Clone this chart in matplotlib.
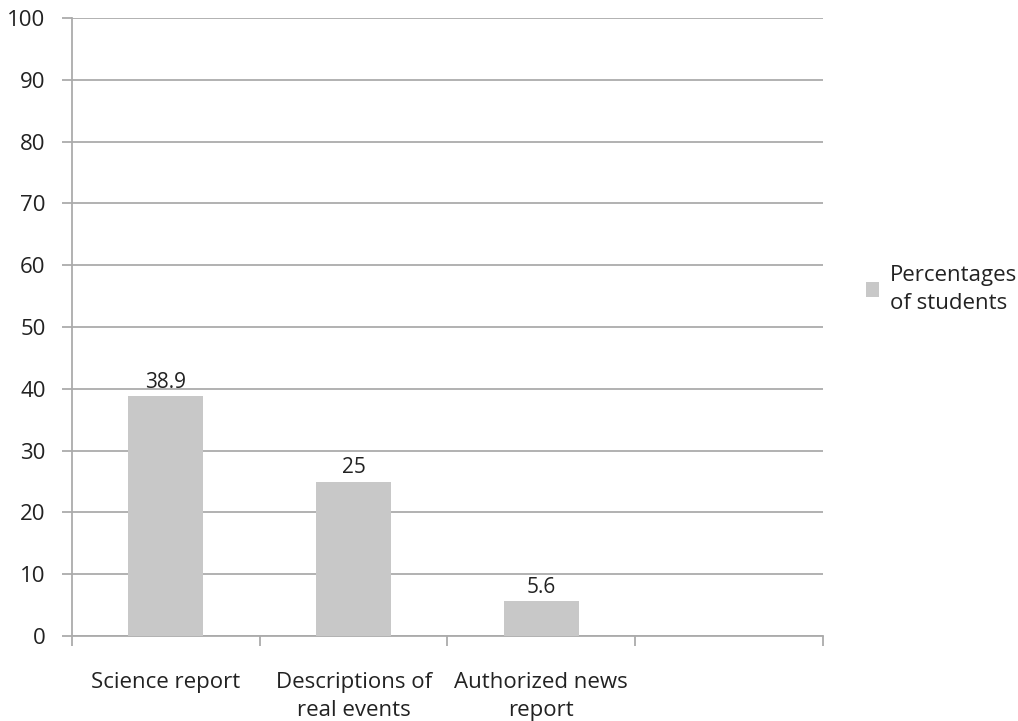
import numpy as np
import matplotlib.pyplot as plt

plt.rcParams['font.family'] = ['Open Sans', 'DejaVu Sans']

categories = ['Science report', 'Descriptions of\nreal events', 'Authorized news\nreport', '']
values = [38.9, 25, 5.6, None]
value_labels = ['38.9', '25', '5.6']
series_name = 'Percentages\nof students'

fig = plt.figure(figsize=(10.18, 7.21), dpi=100)
ax = fig.add_axes([0.0707, 0.1179, 0.7377, 0.857])

grid_col = '#ababab'
bar_col = '#c8c8c8'
txt_col = '#222222'

x = np.arange(len(categories))
heights = [v if v is not None else 0 for v in values]
bars = ax.bar(x, heights, width=0.4, color=bar_col, label=series_name, zorder=3)

for i, lab in enumerate(value_labels):
    ax.text(x[i], values[i] + 0.5, lab, ha='center', va='bottom', fontsize=15, color=txt_col)

ax.set_xlim(-0.5, len(categories) - 0.5)
ax.set_ylim(0, 100)
ax.set_yticks(np.arange(0, 101, 10))
ax.yaxis.grid(True, color=grid_col, linewidth=1.3, zorder=0)

# category boundaries as major ticks, labels on minor ticks
ax.set_xticks(np.arange(-0.5, len(categories), 1.0))
ax.set_xticklabels([])
ax.set_xticks(x, minor=True)
ax.set_xticklabels(categories, minor=True, linespacing=1.45)
ax.tick_params(axis='x', which='major', length=7, width=1.3, color=grid_col, direction='out')
ax.tick_params(axis='x', which='minor', length=0, pad=26, labelsize=16, labelcolor=txt_col)
ax.tick_params(axis='y', length=7, width=1.3, color=grid_col, labelsize=16, labelcolor=txt_col, pad=12)

for s in ['top', 'right']:
    ax.spines[s].set_visible(False)
for s in ['left', 'bottom']:
    ax.spines[s].set_color(grid_col)
    ax.spines[s].set_linewidth(1.3)

leg = ax.legend(loc='center left', bbox_to_anchor=(1.045, 0.561), frameon=False,
                handlelength=0.6, handleheight=0.6, handletextpad=0.5, fontsize=16,
                borderaxespad=0)
for t in leg.get_texts():
    t.set_color(txt_col)
    t.set_linespacing(1.45)

fig.savefig('out.png', dpi=100)
